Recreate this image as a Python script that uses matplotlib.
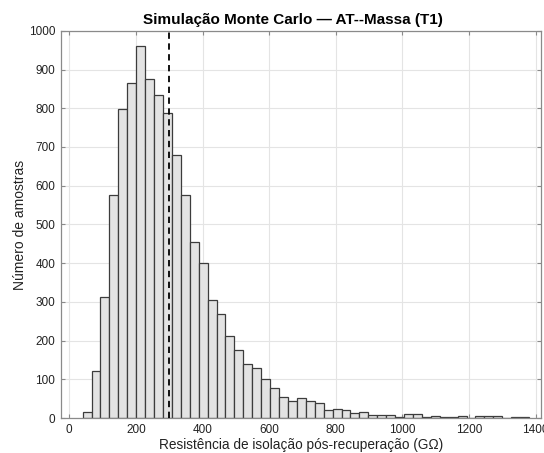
import numpy as np
import matplotlib.pyplot as plt

plt.rcParams['font.family'] = ['Liberation Sans', 'DejaVu Sans']

# histogram bins (GΩ) and counts
bin_start = 40.0
bin_width = 26.8
counts = [16, 121, 314, 576, 797, 865, 960, 875, 834, 787,
          679, 576, 456, 400, 304, 268, 211, 177, 141, 129,
          100, 77, 54, 43, 51, 43, 39, 22, 24, 20,
          12, 15, 9, 7, 9, 4, 10, 10, 2, 5,
          2, 2, 5, 1, 5, 5, 5, 1, 3, 3]
threshold = 300

title = 'Simulação Monte Carlo — AT--Massa (T1)'
xlabel = 'Resistência de isolação pós-recuperação (GΩ)'
ylabel = 'Número de amostras'
xticks = [0, 200, 400, 600, 800, 1000, 1200, 1400]
yticks = list(range(0, 1001, 100))


def main():
    edges = bin_start + bin_width * np.arange(len(counts))

    fig = plt.figure(figsize=(5.44, 4.53), dpi=100)
    ax = fig.add_axes([0.112, 0.077, 0.882, 0.855])

    ax.bar(edges, counts, width=bin_width, align='edge',
           color='#e3e3e3', edgecolor='#3c3c3c', linewidth=0.9, zorder=2)
    ax.axvline(threshold, color='black', linestyle=(0, (3.5, 2.5)),
               linewidth=1.3, zorder=3)

    ax.set_xlim(-25, 1415)
    ax.set_ylim(0, 1000)
    ax.set_xticks(xticks)
    ax.set_yticks(yticks)
    ax.grid(True, color='#e4e4e4', linewidth=0.8, zorder=0)
    ax.set_axisbelow(True)

    for side in ax.spines.values():
        side.set_color('#8a8a8a')
        side.set_linewidth(0.9)
    ax.tick_params(direction='in', top=True, right=True, length=3,
                   color='#8a8a8a', labelsize=8.5, labelcolor='#222222', pad=4)

    ax.set_title(title, fontsize=11, fontweight='bold', pad=5, x=0.484)
    ax.set_xlabel(xlabel, fontsize=9.8, color='#222222', labelpad=2)
    ax.set_ylabel(ylabel, fontsize=10, color='#222222', labelpad=1)

    fig.savefig('out.png', dpi=100)


if __name__ == '__main__':
    main()
